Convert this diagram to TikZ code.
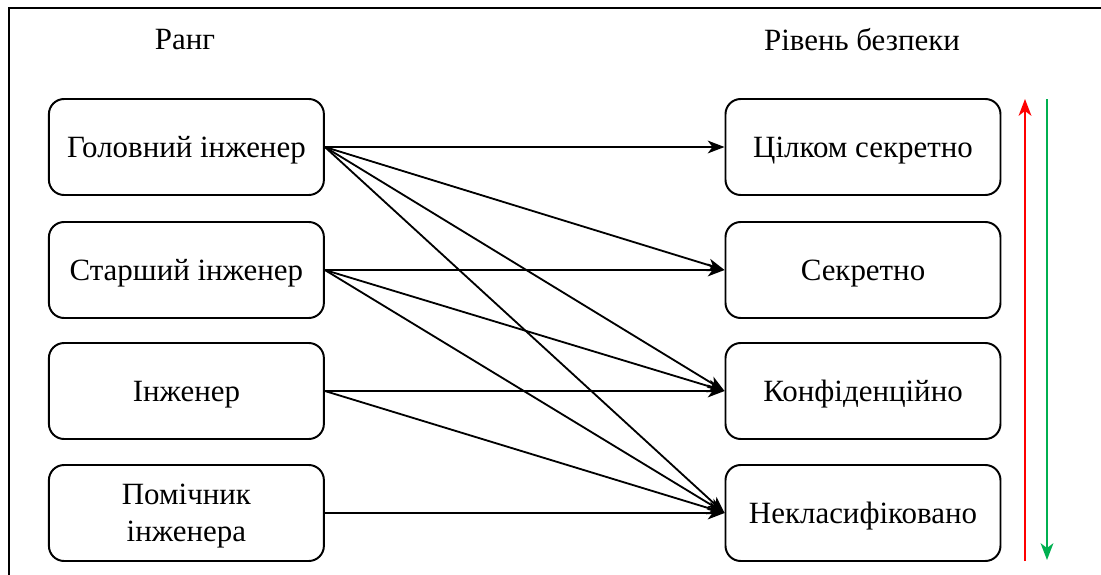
\documentclass[tikz,border=0pt]{standalone}
\usepackage{fontspec}
\setmainfont{Liberation Serif}
\usepackage{tikz}
\usetikzlibrary{arrows.meta}

\begin{document}
\begin{tikzpicture}[
  font=\rmfamily\fontsize{22}{26}\selectfont,
  box/.style={draw, line width=1.4pt, rounded corners=0.38cm, minimum width=6.875cm, minimum height=2.4cm, align=center, inner sep=2pt, text depth=0pt},
  link/.style={line width=1.3pt, -{Stealth[length=0.42cm, width=0.32cm, inset=0.12cm]}}
]
\useasboundingbox (0,0) rectangle (27.525,-14.375);
\draw [line width=1.4pt] (0.225,-14.4) -- (0.225,-0.2) -- (27.6,-0.2);

\node (rank) at (4.625,-1.0) {Ранг};
\node (level) at (21.55,-1.0) {Рівень безпеки};

\node [box] (r1) at (4.66,-3.675) {Головний інженер};
\node [box] (r2) at (4.66,-6.75) {Старший інженер};
\node [box] (r3) at (4.66,-9.775) {Інженер};
\node [box] (r4) at (4.66,-12.825) {Помічник\\інженера};

\node [box] (l1) at (21.575,-3.675) {Цілком секретно};
\node [box] (l2) at (21.575,-6.75) {Секретно};
\node [box] (l3) at (21.575,-9.775) {Конфіденційно};
\node [box] (l4) at (21.575,-12.825) {Некласифіковано};

\foreach \a/\b in {1/1,1/2,1/3,1/4,2/2,2/3,2/4,3/3,3/4,4/4}
  \draw [link] (r\a.east) -- (l\b.west);

% scale arrows
\coordinate (up0) at (25.625,-14.03);
\coordinate (up1) at (25.625,-2.475);
\coordinate (dn0) at (26.175,-2.475);
\coordinate (dn1) at (26.175,-14.0);
\draw [link, red] (up0) -- (up1);
\draw [link, color={rgb,255:red,0;green,176;blue,80}] (dn0) -- (dn1);
\end{tikzpicture}
\end{document}
